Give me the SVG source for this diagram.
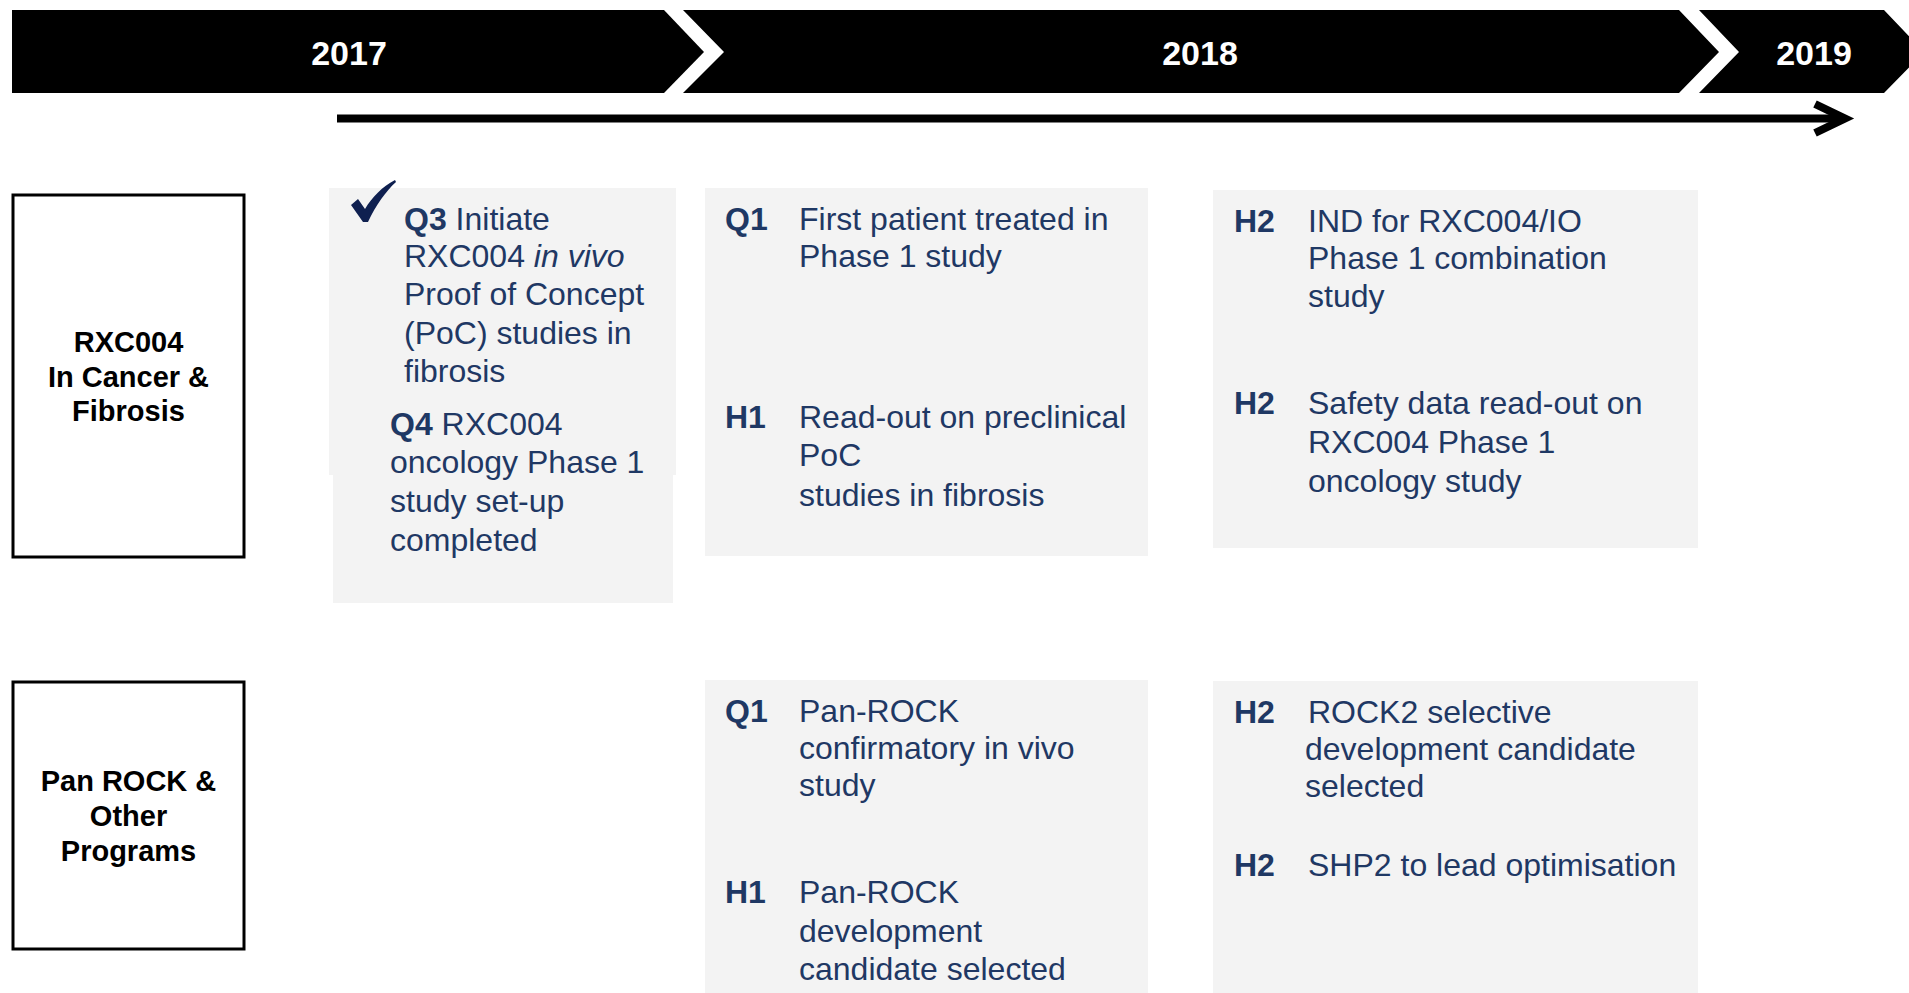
<svg xmlns="http://www.w3.org/2000/svg" width="1909" height="993" viewBox="0 0 1909 993">
  <style>
    .band { fill: #000000; }
    .year { font-family: "Liberation Sans", Arial, sans-serif; font-weight: bold; font-size: 34px; fill: #ffffff; text-anchor: middle; }
    .prog { fill: #ffffff; stroke: #000000; stroke-width: 3; }
    .progText { font-family: "Liberation Sans", Arial, sans-serif; font-weight: bold; font-size: 29px; fill: #000000; text-anchor: middle; }
    .card { fill: #f3f3f3; }
    .t { font-family: "Liberation Sans", Arial, sans-serif; font-size: 32px; fill: #1f3864; }
    .b { font-weight: bold; }
    .i { font-style: italic; }
    .axis { stroke: #000000; stroke-width: 8; fill: none; }
  </style>
  <defs>
    <marker id="open-arrow" markerUnits="userSpaceOnUse" viewBox="-40 -25 55 50" refX="0" refY="0" markerWidth="55" markerHeight="50" orient="auto" overflow="visible">
      <path d="M-30,-14.5 L0,0 L-30,14.5" fill="none" stroke="#000000" stroke-width="8" stroke-linejoin="miter" stroke-miterlimit="10"/>
    </marker>
  </defs>

  <rect width="1909" height="993" fill="#ffffff"/>

  <!-- year band -->
  <g id="year-band">
    <path class="band" d="M12,10 L664,10 L704,52 L664,93 L12,93 Z"/>
    <path class="band" d="M683,10 L1679,10 L1719,52 L1679,93 L683,93 L724,52 Z"/>
    <path class="band" d="M1699,10 L1884,10 L1924,52 L1884,93 L1699,93 L1739,52 Z"/>
    <text class="year" x="349" y="65">2017</text>
    <text class="year" x="1200" y="65">2018</text>
    <text class="year" x="1814" y="65">2019</text>
  </g>

  <!-- timeline arrow -->
  <g id="connectors">
    <line class="axis" x1="337" y1="118.5" x2="1845" y2="118.5" marker-end="url(#open-arrow)"/>
  </g>

  <!-- programme labels -->
  <g id="prog-rxc004">
    <rect class="prog" x="13" y="195" width="231" height="362"/>
    <text class="progText" x="128.5" y="352">RXC004</text>
    <text class="progText" x="128.5" y="387">In Cancer &amp;</text>
    <text class="progText" x="128.5" y="421">Fibrosis</text>
  </g>
  <g id="prog-panrock">
    <rect class="prog" x="13" y="682" width="231" height="267"/>
    <text class="progText" x="128.5" y="791">Pan ROCK &amp;</text>
    <text class="progText" x="128.5" y="826">Other</text>
    <text class="progText" x="128.5" y="861">Programs</text>
  </g>

  <!-- 2017 milestones -->
  <g id="rxc004-2017">
    <rect class="card" x="329" y="188" width="347" height="287"/>
    <rect class="card" x="333" y="474" width="340" height="129"/>
    <!-- done tick -->
    <path d="M351,205 L358,199 L365,209 C372,197 382,187 395,180 L396,182 C386,191 376,205 368,222 L363,222 Z" fill="#0f2050"/>
    <text class="t" x="404" y="230"><tspan class="b">Q3</tspan> Initiate</text>
    <text class="t" x="404" y="267">RXC004 <tspan class="i">in vivo</tspan></text>
    <text class="t" x="404" y="305">Proof of Concept</text>
    <text class="t" x="404" y="344">(PoC) studies in</text>
    <text class="t" x="404" y="382">fibrosis</text>
    <text class="t" x="390" y="435"><tspan class="b">Q4</tspan> RXC004</text>
    <text class="t" x="390" y="473">oncology Phase 1</text>
    <text class="t" x="390" y="512">study set-up</text>
    <text class="t" x="390" y="551">completed</text>
  </g>

  <!-- 2018 milestones, RXC004 -->
  <g id="rxc004-2018-h1">
    <rect class="card" x="705" y="188" width="443" height="368"/>
    <text class="t b" x="725" y="230">Q1</text>
    <text class="t" x="799" y="230">First patient treated in</text>
    <text class="t" x="799" y="267">Phase 1 study</text>
    <text class="t b" x="725" y="428">H1</text>
    <text class="t" x="799" y="428">Read-out on preclinical</text>
    <text class="t" x="799" y="466">PoC</text>
    <text class="t" x="799" y="506">studies in fibrosis</text>
  </g>
  <g id="rxc004-2018-h2">
    <rect class="card" x="1213" y="190" width="485" height="358"/>
    <text class="t b" x="1234" y="232">H2</text>
    <text class="t" x="1308" y="232">IND for RXC004/IO</text>
    <text class="t" x="1308" y="269">Phase 1 combination</text>
    <text class="t" x="1308" y="307">study</text>
    <text class="t b" x="1234" y="414">H2</text>
    <text class="t" x="1308" y="414">Safety data read-out on</text>
    <text class="t" x="1308" y="453">RXC004 Phase 1</text>
    <text class="t" x="1308" y="492">oncology study</text>
  </g>

  <!-- 2018 milestones, Pan ROCK and other programmes -->
  <g id="panrock-2018-h1">
    <rect class="card" x="705" y="680" width="443" height="313"/>
    <text class="t b" x="725" y="722">Q1</text>
    <text class="t" x="799" y="722">Pan-ROCK</text>
    <text class="t" x="799" y="759">confirmatory in vivo</text>
    <text class="t" x="799" y="796">study</text>
    <text class="t b" x="725" y="903">H1</text>
    <text class="t" x="799" y="903">Pan-ROCK</text>
    <text class="t" x="799" y="942">development</text>
    <text class="t" x="799" y="980">candidate selected</text>
  </g>
  <g id="panrock-2018-h2">
    <rect class="card" x="1213" y="681" width="485" height="312"/>
    <text class="t b" x="1234" y="723">H2</text>
    <text class="t" x="1308" y="723">ROCK2 selective</text>
    <text class="t" x="1305" y="760">development candidate</text>
    <text class="t" x="1305" y="797">selected</text>
    <text class="t b" x="1234" y="876">H2</text>
    <text class="t" x="1308" y="876">SHP2 to lead optimisation</text>
  </g>
</svg>
